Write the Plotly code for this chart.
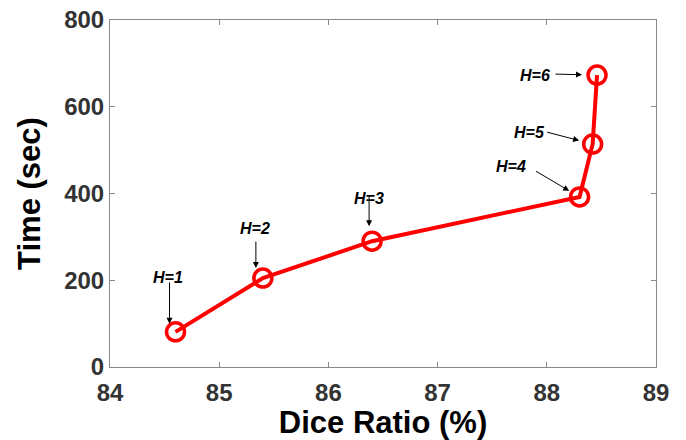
import plotly.graph_objects as go

dice = [84.60, 85.40, 86.40, 88.30, 88.42, 88.46]
time_sec = [81, 205, 290, 392, 514, 673]
labels = ["H=1", "H=2", "H=3", "H=4", "H=5", "H=6"]

# arrow geometry (pixel offsets relative to each point)
arrow_xshift = [-6, -7, -3, 0, 0, 0]
arrow_ax = [0, 0, 0, -44, -46, -42]
arrow_ay = [-50, -37, -46, -26, -12, -1]
arrow_standoff = [8, 10, 15, 12, 14, 15]
# text label offsets (pixels, y down) relative to each point
text_dx = [-8, -8, -3, -69, -63, -62]
text_dy = [-54, -50, -43, -30, -12, 0]

fig = go.Figure()
fig.add_trace(go.Scatter(
    x=dice, y=time_sec, mode="lines+markers",
    line=dict(color="#ff0000", width=4),
    marker=dict(symbol="circle-open", size=18, color="#ff0000", line=dict(width=3.5, color="#ff0000")),
    showlegend=False,
))

for xv, yv, xs, ax, ay, so in zip(dice, time_sec, arrow_xshift, arrow_ax, arrow_ay, arrow_standoff):
    fig.add_annotation(
        x=xv, y=yv, text="", showarrow=True,
        arrowhead=2, arrowsize=1.2, arrowwidth=1, arrowcolor="black",
        ax=ax, ay=ay, standoff=so, xshift=xs,
        font=dict(size=1), borderpad=0,
    )

for xv, yv, t, dx, dy in zip(dice, time_sec, labels, text_dx, text_dy):
    fig.add_annotation(
        x=xv, y=yv, text="<b><i>" + t + "</i></b>", showarrow=False,
        xshift=dx, yshift=-dy, xanchor="center", yanchor="middle",
        font=dict(family="Liberation Sans Narrow, Liberation Sans, Arial", size=16, color="black"),
    )

axis_common = dict(
    showgrid=False, zeroline=False, showline=True, mirror="ticks",
    linecolor="#888888", linewidth=1, ticks="inside", ticklen=5, tickcolor="#888888",
    tickfont=dict(family="Liberation Sans, Arial", size=24, color="#333333"),
    automargin=False,
)
fig.update_xaxes(range=[84, 89], dtick=1, ticklabelstandoff=4, **axis_common,
                 title=dict(text="<b>Dice Ratio (%)</b>", standoff=4,
                            font=dict(family="Liberation Sans, Arial", size=31, color="black")))
fig.update_yaxes(range=[0, 800], dtick=200, **axis_common,
                 title=dict(text="<b>Time (sec)</b>", standoff=14,
                            font=dict(family="Liberation Sans, Arial", size=31, color="black")))
fig.update_layout(
    width=686, height=440,
    margin=dict(l=110, r=30, t=20, b=73),
    plot_bgcolor="white", paper_bgcolor="white",
)
fig.update_xaxes(tickprefix="<b>", ticksuffix="</b>")
fig.update_yaxes(tickprefix="<b>", ticksuffix="</b>")
fig.write_html("out.html", config={"displayModeBar": False},
               post_script="document.body.style.margin='0px';")
